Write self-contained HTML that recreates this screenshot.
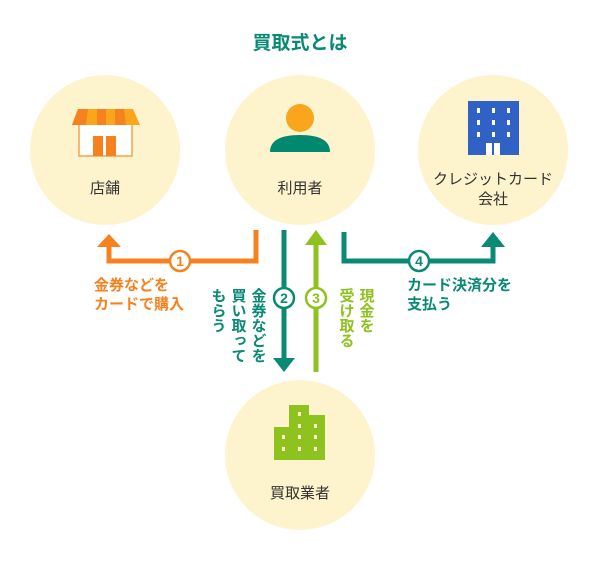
<!DOCTYPE html>
<html><head><meta charset="utf-8"><style>
body{margin:0;background:#fff}
svg text{font-family:"Liberation Sans","Noto Sans CJK JP",sans-serif}
</style></head><body>
<svg width="600" height="560" viewBox="0 0 600 560" xmlns="http://www.w3.org/2000/svg">
<text x="300" y="49" text-anchor="middle" font-size="19" font-weight="bold" fill="#0a8a74">買取式とは</text>
<g fill="#fdf3cc">
<circle cx="105" cy="150" r="75"/><circle cx="300" cy="150" r="75"/><circle cx="493" cy="150" r="75"/><circle cx="300" cy="455" r="75"/>
</g>
<!-- shop -->
<rect x="79" y="118" width="53" height="38" fill="#fff" stroke="#f7a24a" stroke-width="1.5"/>
<rect x="93" y="136" width="10" height="20" fill="#f5821f"/><rect x="106" y="136" width="10" height="20" fill="#f5821f"/>
<path d="M72 125 L78 109 L133 109 L140 125 Z" fill="#f9a61c"/>
<path d="M72 125 L78 109 L88 109 L86 125 Z M97 109 L106 109 L106 125 L97 125Z M115 109 L124 109 L126 125 L115 125Z" fill="#f5821f"/>
<text x="105" y="193" text-anchor="middle" font-size="15" fill="#333">店舗</text>
<!-- user -->
<circle cx="300" cy="118" r="14" fill="#f9a61c"/>
<path d="M270 152 Q270 135 300 135 Q330 135 330 152 Z" fill="#00896f"/>
<text x="300" y="193" text-anchor="middle" font-size="15" fill="#333">利用者</text>
<!-- card co -->
<rect x="468" y="101" width="51" height="54" fill="#2f62c4"/>
<g fill="#fff"><rect x="477" y="108" width="3" height="5"/><rect x="492" y="108" width="3" height="5"/><rect x="507" y="108" width="3" height="5"/>
<rect x="477" y="120" width="3" height="5"/><rect x="492" y="120" width="3" height="5"/><rect x="507" y="120" width="3" height="5"/>
<rect x="477" y="132" width="3" height="5"/><rect x="492" y="132" width="3" height="5"/><rect x="507" y="132" width="3" height="5"/>
<rect x="486" y="143" width="6" height="12"/><rect x="494" y="143" width="6" height="12"/></g>
<text x="493" y="184" text-anchor="middle" font-size="15" fill="#333">クレジットカード</text>
<text x="493" y="204" text-anchor="middle" font-size="15" fill="#333">会社</text>
<!-- buyer building -->
<path d="M274 460 L274 427 L289 427 L289 405 L309 405 L309 415 L325 415 L325 460 Z" fill="#8dc21f"/>
<g fill="#fdf3cc"><rect x="298" y="412" width="3" height="4"/><rect x="298" y="424" width="3" height="4"/><rect x="314" y="424" width="3" height="4"/>
<rect x="282" y="435" width="3" height="4"/><rect x="298" y="435" width="3" height="4"/><rect x="314" y="435" width="3" height="4"/>
<rect x="282" y="447" width="3" height="4"/><rect x="298" y="447" width="3" height="4"/><rect x="314" y="447" width="3" height="4"/></g>
<text x="300" y="498" text-anchor="middle" font-size="15" fill="#333">買取業者</text>
<!-- arrow 1 -->
<path d="M256 230 V261 H109 V245" fill="none" stroke="#f5821f" stroke-width="5"/>
<path d="M97 247 L109 234 L121 247Z" fill="#f5821f"/>
<circle cx="180" cy="261" r="10" fill="#fff" stroke="#f5821f" stroke-width="2.5"/>
<text x="180" y="266" text-anchor="middle" font-size="14" font-weight="bold" fill="#f5821f">1</text>
<text x="94" y="290" font-size="15" font-weight="bold" fill="#f5821f">金券などを</text>
<text x="94" y="309" font-size="15" font-weight="bold" fill="#f5821f">カードで購入</text>
<!-- arrow 2 -->
<path d="M284 230 V360" fill="none" stroke="#0a8a74" stroke-width="5"/>
<path d="M273 358 L284 372 L295 358Z" fill="#0a8a74"/>
<circle cx="284" cy="298" r="10" fill="#fff" stroke="#0a8a74" stroke-width="2.5"/>
<text x="284" y="303" text-anchor="middle" font-size="14" font-weight="bold" fill="#0a8a74">2</text>
<g font-size="15" font-weight="bold" fill="#0a8a74" style="writing-mode:vertical-rl">
<text x="258" y="288">金券などを</text><text x="238" y="288">買い取って</text><text x="218" y="288">もらう</text></g>
<!-- arrow 3 -->
<path d="M316 372 V242" fill="none" stroke="#8dc21f" stroke-width="5"/>
<path d="M305 245 L316 230 L327 245Z" fill="#8dc21f"/>
<circle cx="316" cy="298" r="10" fill="#fff" stroke="#8dc21f" stroke-width="2.5"/>
<text x="316" y="303" text-anchor="middle" font-size="14" font-weight="bold" fill="#8dc21f">3</text>
<g font-size="15" font-weight="bold" fill="#8dc21f" style="writing-mode:vertical-rl">
<text x="366" y="288">現金を</text><text x="346" y="288">受け取る</text></g>
<!-- arrow 4 -->
<path d="M344 232 V261 H493 V245" fill="none" stroke="#0a8a74" stroke-width="5"/>
<path d="M481 247 L493 232 L505 247Z" fill="#0a8a74"/>
<circle cx="419" cy="261" r="10" fill="#fff" stroke="#0a8a74" stroke-width="2.5"/>
<text x="419" y="266" text-anchor="middle" font-size="14" font-weight="bold" fill="#0a8a74">4</text>
<text x="407" y="290" font-size="15" font-weight="bold" fill="#0a8a74">カード決済分を</text>
<text x="407" y="309" font-size="15" font-weight="bold" fill="#0a8a74">支払う</text>
</svg>
</body></html>
